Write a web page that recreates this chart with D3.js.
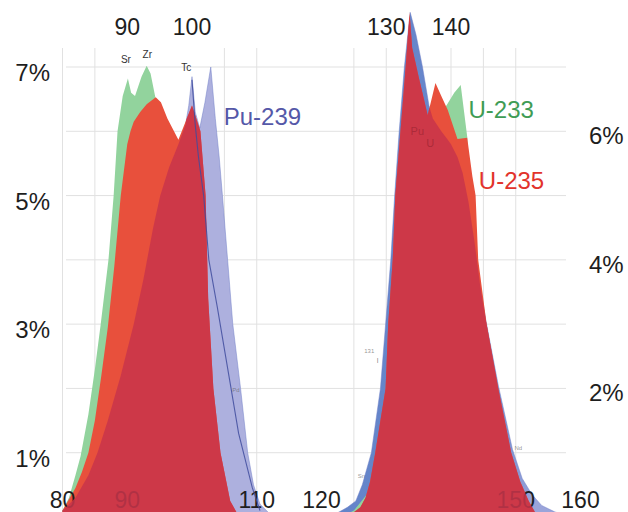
<!DOCTYPE html>
<html>
<head>
<meta charset="utf-8">
<script src="https://cdn.jsdelivr.net/npm/d3@7/dist/d3.min.js"></script>
<style>
  html, body { margin: 0; padding: 0; background: #fff; }
  svg { display: block; }
  text { font-family: "Liberation Sans", Arial, Helvetica, sans-serif; }
</style>
</head>
<body>
<div id="chart"></div>
<script>
// ---- Data (mass number, cumulative fission yield %) ----
const u233Mass  = [80, 81, 82, 82.8, 84, 85, 85.9, 87.1, 87.9, 88.5, 89.3, 90.1, 90.6, 91.2, 92.2, 93, 93.6, 94.4, 95, 96, 97, 98, 99, 100, 101, 102, 102.5, 103, 104, 105, 106, 107,
                   123, 125, 127, 128, 129, 130, 131, 132, 133, 134, 135, 136, 137, 138, 139.3, 140.5, 141.5, 142.5, 143, 144, 145, 147, 149, 151, 153, 154, 160];
const u233Yield = [0.1, 0.3, 0.65, 0.95, 1.6, 2.3, 3.0, 4.0, 5.0, 6.0, 6.55, 6.82, 6.6, 6.55, 6.85, 7.02, 6.9, 6.5, 6.1, 5.7, 5.4, 5.2, 5.0, 4.7, 4.2, 3.2, 2.5, 1.8, 1.0, 0.4, 0.1, 0,
                   0, 0.1, 0.35, 0.7, 1.2, 2.0, 3.5, 4.8, 5.8, 6.2, 6.2, 6.0, 6.15, 6.3, 6.4, 6.6, 6.72, 5.92, 5.2, 3.6, 2.7, 1.6, 0.8, 0.3, 0.05, 0, 0];

const u235Mass  = [80, 82, 83, 84, 85, 86, 87, 88, 89, 90, 90.5, 91, 92, 93, 94.4, 95.2, 96.2, 97.9, 99, 100, 100.5, 101.3, 102.1, 102.5, 103.3, 104.4, 105.9, 107, 108,
                   124, 126, 126.8, 127.5, 128.3, 129.9, 130.3, 131, 131.4, 132.2, 133, 133.6, 134, 135, 136.4, 137.6, 138.5, 139.5, 141, 142.5, 143.3, 143.8, 144.2, 145.5, 147.3, 149.3, 150.7, 152, 153, 155, 160];
const u235Yield = [0.1, 0.45, 0.7, 1.0, 1.5, 2.2, 2.95, 3.9, 5.0, 5.8, 6.0, 6.15, 6.3, 6.42, 6.53, 6.45, 6.2, 5.87, 6.15, 6.4, 6.25, 6.0, 5.0, 3.4, 2.0, 1.0, 0.25, 0.05, 0,
                   0, 0.15, 0.3, 0.55, 1.0, 2.0, 3.0, 4.0, 5.0, 6.0, 7.0, 7.85, 7.3, 6.85, 6.25, 6.75, 6.55, 6.33, 5.88, 5.9, 5.3, 5.0, 4.0, 3.0, 2.0, 1.0, 0.55, 0.25, 0.07, 0, 0];

const pu239Mass  = [80, 82, 84, 85.4, 87, 89, 91, 92.5, 94, 95.1, 96.5, 97.9, 99, 99.5, 100, 100.5, 101.2, 102, 102.9, 103.6, 104.2, 104.7, 105.5, 106.3, 107.5, 108.6, 109.5, 110.5, 112, 114,
                    121, 122.2, 124, 125.3, 126.3, 127.7, 129.1, 129.9, 130.7, 131.3, 132, 132.8, 133.7, 134.6, 135.6, 136.6, 137.2, 138.5, 140, 141, 141.8, 142.7, 143.6, 144.5, 145.4, 147.3, 149.5, 151, 152.5, 154, 156, 158, 159, 160];
const pu239Yield = [0.1, 0.3, 0.65, 1.0, 1.5, 2.2, 3.0, 3.7, 4.5, 5.0, 5.45, 5.8, 6.1, 6.4, 6.85, 6.3, 6.05, 6.45, 7.0, 6.2, 5.6, 5.0, 4.0, 3.0, 2.0, 1.0, 0.5, 0.2, 0.05, 0,
                    0, 0.05, 0.15, 0.25, 0.5, 1.0, 2.0, 3.0, 4.0, 5.0, 6.0, 7.0, 7.85, 7.5, 7.0, 6.4, 6.2, 6.0, 5.8, 5.6, 5.35, 4.9, 4.3, 3.6, 3.05, 2.05, 1.05, 0.6, 0.35, 0.18, 0.08, 0.02, 0, 0];

// thin dark outline curve inside the Pu-239 light peak
const outlineMass  = [100, 100.5, 101, 101.8, 102.6, 103.9, 105.9, 107.2, 109.3, 110.5];
const outlineYield = [6.8, 6.1, 5.6, 5.0, 4.0, 3.27, 2.08, 1.3, 0.46, 0.1];

const topTicks    = [90, 100, 130, 140];
const bottomTicks = [80, 90, 110, 120, 150, 160];
const leftTicks   = [7, 5, 3, 1];
const rightTicks  = [6, 4, 2];
const gridYs      = [1, 2, 3, 4, 5, 6, 7];
const gridMasses  = [80, 85, 105, 110, 125, 130, 140, 145, 150];

const seriesLabels = [
  { name: "Pu-239", m: 104.9, v: 6.1,  color: "#5558a8" },
  { name: "U-233",  m: 142.7, v: 6.2,  color: "#3f9c55" },
  { name: "U-235",  m: 144.3, v: 5.1,  color: "#e2332b" }
];
const elementTags = [
  { t: "Sr", m: 89.8, v: 7.06 },
  { t: "Zr", m: 93.1, v: 7.14 },
  { t: "Tc", m: 99.1, v: 6.94 }
];

// ---- Drawing ----
const W = 628, H = 512;
const svg = d3.select("#chart").append("svg").attr("width", W).attr("height", H);
svg.append("rect").attr("width", W).attr("height", H).attr("fill", "#fff");

const x = d3.scaleLinear().domain([80, 160]).range([62.5, 580.5]);
const y = d3.scaleLinear().domain([0, 7]).range([517, 67]);

const pts = (ms, vs) => ms.map((m, i) => [m, vs[i]]);
const u233 = pts(u233Mass, u233Yield);
const u235 = pts(u235Mass, u235Yield);
const pu239 = pts(pu239Mass, pu239Yield);
const outline = pts(outlineMass, outlineYield);

function interp(ms, vs, m) {
  if (m <= ms[0]) return vs[0];
  if (m >= ms[ms.length - 1]) return vs[vs.length - 1];
  const i = d3.bisectRight(ms, m) - 1;
  const t = (m - ms[i]) / (ms[i + 1] - ms[i]);
  return vs[i] + t * (vs[i + 1] - vs[i]);
}
// overlap (minimum) of U-235 and Pu-239 with exact crossings
function overlap() {
  const ms = Array.from(new Set([...u235Mass, ...pu239Mass])).sort((a, b) => a - b);
  const out = [];
  for (let k = 0; k < ms.length; k++) {
    const m = ms[k];
    const a = interp(u235Mass, u235Yield, m), b = interp(pu239Mass, pu239Yield, m);
    out.push([m, Math.min(a, b)]);
    if (k < ms.length - 1) {
      const m2 = ms[k + 1];
      const a2 = interp(u235Mass, u235Yield, m2), b2 = interp(pu239Mass, pu239Yield, m2);
      const d1 = a - b, d2 = a2 - b2;
      if (d1 * d2 < 0) {
        const t = d1 / (d1 - d2);
        const mc = m + t * (m2 - m);
        out.push([mc, a + t * (a2 - a)]);
      }
    }
  }
  return out;
}

// gradient for Pu-239 (lavender light peak, bluer heavy peak)
const defs = svg.append("defs");
const grad = defs.append("linearGradient").attr("id", "puGrad")
  .attr("gradientUnits", "userSpaceOnUse")
  .attr("x1", x(80)).attr("x2", x(160)).attr("y1", 0).attr("y2", 0);
[[80, "#adb0de"], [116, "#adb0de"], [121, "#6384c9"], [146, "#6a88cc"], [153, "#9aa4da"], [160, "#9aa4da"]]
  .forEach(([m, c]) => grad.append("stop").attr("offset", (m - 80) / 80).attr("stop-color", c));

// gridlines
const grid = svg.append("g").attr("stroke", "#e1e1e1").attr("stroke-width", 1);
gridYs.forEach(v => grid.append("line")
  .attr("x1", 66).attr("x2", 566).attr("y1", y(v)).attr("y2", y(v)));
gridMasses.forEach(m => grid.append("line")
  .attr("x1", x(m)).attr("x2", x(m)).attr("y1", 48).attr("y2", 512));

const area = d3.area().x(d => x(d[0])).y0(y(0)).y1(d => y(d[1])).curve(d3.curveLinear);

svg.append("path").datum(pu239).attr("d", area)
  .attr("fill", "url(#puGrad)").attr("stroke", "#6d7cc6").attr("stroke-width", 0.8).attr("stroke-opacity", 0.6);
svg.append("path").datum(u233).attr("d", area).attr("fill", "#92d39d");
svg.append("path").datum(u235).attr("d", area).attr("fill", "#e8503c");

const fontSize = 23;
// bottom tick labels (partly covered by the overlap layer)
svg.append("g").selectAll("text").data(bottomTicks).join("text")
  .attr("x", d => x(d)).attr("y", 508).attr("text-anchor", "middle")
  .attr("font-size", fontSize).attr("fill", "#1e1e1e").text(d => d);

// overlap layer
svg.append("path").datum(overlap()).attr("d", area)
  .attr("fill", "#c8344a").attr("fill-opacity", 0.86);

// thin outline line
svg.append("path").datum(outline)
  .attr("d", d3.line().x(d => x(d[0])).y(d => y(d[1])))
  .attr("fill", "none").attr("stroke", "#3f4c9e").attr("stroke-width", 1.1).attr("stroke-opacity", 0.85);

// top tick labels
svg.append("g").selectAll("text").data(topTicks).join("text")
  .attr("x", d => x(d)).attr("y", 35).attr("text-anchor", "middle")
  .attr("font-size", fontSize).attr("fill", "#1e1e1e").text(d => d);

// left % labels
svg.append("g").selectAll("text").data(leftTicks).join("text")
  .attr("x", 50).attr("y", d => y(d) + 14).attr("text-anchor", "end")
  .attr("font-size", fontSize + 1).attr("fill", "#1e1e1e").text(d => d + "%");

// right % labels
svg.append("g").selectAll("text").data(rightTicks).join("text")
  .attr("x", 589).attr("y", d => y(d) + 13).attr("text-anchor", "start")
  .attr("font-size", fontSize + 1).attr("fill", "#1e1e1e").text(d => d + "%");

// series labels
svg.append("g").selectAll("text").data(seriesLabels).join("text")
  .attr("x", d => x(d.m)).attr("y", d => y(d.v))
  .attr("font-size", 24).attr("fill", d => d.color).text(d => d.name);

// element tags
svg.append("g").selectAll("text").data(elementTags).join("text")
  .attr("x", d => x(d.m)).attr("y", d => y(d.v)).attr("text-anchor", "middle")
  .attr("font-size", 10).attr("fill", "#333").text(d => d.t);

// faint tiny tags inside/near the heavy peak
const faint = svg.append("g").attr("font-size", 11).attr("fill", "#8d1e2c").attr("fill-opacity", 0.55);
faint.append("text").attr("x", x(134.8)).attr("y", y(5.95)).attr("text-anchor", "middle").text("Pu");
faint.append("text").attr("x", x(136.8)).attr("y", y(5.75)).attr("text-anchor", "middle").text("U");
const tiny = svg.append("g").attr("font-size", 6).attr("fill", "#666").attr("fill-opacity", 0.7);
tiny.append("text").attr("x", x(126.6)).attr("y", y(2.55)).text("131");
tiny.append("text").attr("x", x(128.5)).attr("y", y(2.4)).attr("font-size", 8).text("I");
tiny.append("text").attr("x", x(125.6)).attr("y", y(0.6)).text("Sn");
tiny.append("text").attr("x", x(149.8)).attr("y", y(1.05)).text("Nd");
tiny.append("text").attr("x", x(106.2)).attr("y", y(1.95)).text("Pd");
</script>
</body>
</html>
